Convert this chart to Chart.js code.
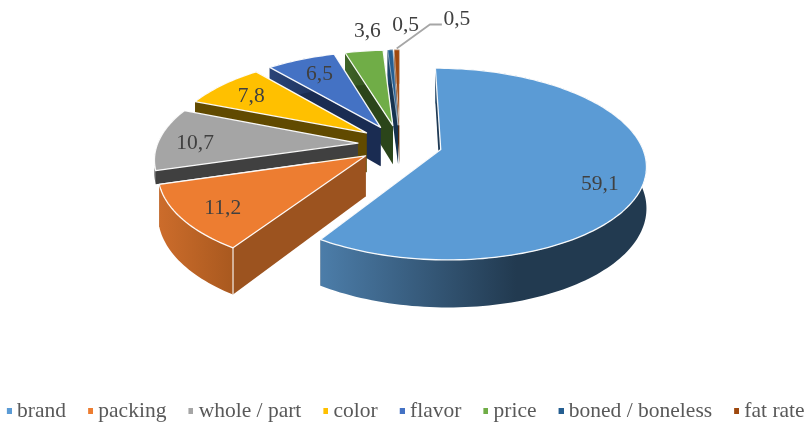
<!DOCTYPE html>
<html><head><meta charset="utf-8">
<style>html,body{margin:0;padding:0;background:#fff}canvas{display:block;filter:blur(.45px)}</style>
<script src="https://cdn.jsdelivr.net/npm/chart.js@4"></script></head>
<body><canvas id="c" width="810" height="422"></canvas>
<script>
const categories = ['brand','packing','whole / part','color','flavor','price','boned / boneless','fat rate'];
const shares = [59.1,11.2,10.7,7.8,6.5,3.6,0.5,0.5];
const shareLabels = ['59,1','11,2','10,7','7,8','6,5','3,6','0,5','0,5'];
const topColors = ['#5b9bd5','#ed7d31','#a5a5a5','#ffc000','#4472c4','#70ad47','#255e91','#9e480e'];
const sideColors = ['#1f3a55','#9c531f','#404040','#614a00','#1a2c52','#2b451a','#16324f','#5c2a08'];
const rimFrom = ['#4c7da9','#cc6c2b','#404040','#614a00','#2a4478','#3f6428','#1d4a70','#70350a'];
const rimTo = ['#223a50','#a9591f','#404040','#614a00','#1a2c52','#2b451a','#16324f','#5c2a08'];
const sideDepth = [40,40,13,40,40,40,40,40];
const labelReach = [0.8,0.8,0.79,0.78,0.77,1.31,1.41,1.42];
const labelShift = [[-3,13],[1,3],[-6,4],[-1,2],[2,1],[11,0],[18,1],[61,-4]];

// Legend swatch: small square placed right of the icon's centre, so it sits close to its text.
function swatch(color){
  const c = document.createElement('canvas'); c.width = 12; c.height = 6;
  const x = c.getContext('2d'); x.fillStyle = color; x.fillRect(7,0,5,6);
  return c;
}

const pie3d = {
  id:'pie3d',
  beforeDatasetsDraw(chart, args, o){
    const ctx = chart.ctx, arcs = chart.getDatasetMeta(0).data;
    const project = (u,v,lift=0)=>{
      const d = 1 + o.persp*v;
      return [o.cx + o.sx*u/d, o.cy + o.sy*v/d + lift/d];
    };
    const pathOf = pts => { ctx.beginPath(); pts.forEach((p,i)=> i?ctx.lineTo(p[0],p[1]):ctx.moveTo(p[0],p[1])); ctx.closePath(); };
    const geo = arcs.map(el=>{
      const p = el.getProps(['startAngle','endAngle','outerRadius']);
      const off = el.options.offset/p.outerRadius, mid=(p.startAngle+p.endAngle)/2;
      return {a0:p.startAngle,a1:p.endAngle,mid,ou:Math.cos(mid)*off,ov:Math.sin(mid)*off};
    });
    for(let i=arcs.length-1;i>=0;i--){
      const g = geo[i], n = Math.max(4,Math.ceil((g.a1-g.a0)*40)), h = sideDepth[i];
      const rim = lift=>{const r=[];for(let k=0;k<=n;k++){const a=g.a0+(g.a1-g.a0)*k/n;r.push(project(g.ou+Math.cos(a),g.ov+Math.sin(a),lift));}return r;};
      const rT = rim(0), rB = rim(h), aT = project(g.ou,g.ov,0), aB = project(g.ou,g.ov,h);
      ctx.fillStyle = sideColors[i];
      pathOf([aT,rT[n],rB[n],aB]); ctx.fill();
      pathOf([aT,rT[0],rB[0],aB]); ctx.fill();
      const xs = rT.map(p=>p[0]), x0=Math.min(...xs), x1=Math.max(...xs);
      const gr = ctx.createLinearGradient(x0,0,x1,0);
      gr.addColorStop(0,rimFrom[i]); gr.addColorStop(i===0?.6:1,rimTo[i]); gr.addColorStop(1,rimTo[i]);
      ctx.fillStyle = gr;
      pathOf(rT.concat(rB.slice().reverse())); ctx.fill();
      if(i===1){ctx.strokeStyle='rgba(255,255,255,.9)';ctx.lineWidth=1.2;ctx.beginPath();ctx.moveTo(rT[0][0],rT[0][1]);ctx.lineTo(rB[0][0],rB[0][1]);ctx.stroke();}
      ctx.fillStyle = topColors[i];
      ctx.strokeStyle = 'rgba(255,255,255,.95)'; ctx.lineWidth = i>5?.5:1.3; ctx.lineJoin='round';
      pathOf([aT].concat(rT)); ctx.fill(); ctx.stroke();
    }
    ctx.font = o.labelFont; ctx.fillStyle='#404040'; ctx.textAlign='center'; ctx.textBaseline='middle';
    geo.forEach((g,i)=>{
      const r = labelReach[i], p = project(g.ou+Math.cos(g.mid)*r, g.ov+Math.sin(g.mid)*r);
      ctx.fillText(shareLabels[i], p[0]+labelShift[i][0], p[1]+labelShift[i][1]);
    });
    const last = geo[geo.length-1], tip = project(last.ou+Math.cos(last.mid)*1.02,last.ov+Math.sin(last.mid)*1.02);
    const lp = project(last.ou+Math.cos(last.mid)*labelReach[7],last.ov+Math.sin(last.mid)*labelReach[7]);
    const ly = lp[1]+labelShift[7][1]+5, lx = lp[0]+labelShift[7][0]-15;
    ctx.strokeStyle='#a6a6a6'; ctx.lineWidth=1.8; ctx.beginPath();
    ctx.moveTo(tip[0],tip[1]); ctx.lineTo(lx-12,ly); ctx.lineTo(lx,ly); ctx.stroke();
    return false;
  }
};

new Chart(document.getElementById('c'),{
  type:'pie',
  data:{labels:categories,datasets:[{data:shares,backgroundColor:topColors,borderWidth:0,offset:21}]},
  options:{
    responsive:false,animation:false,radius:100,
    layout:{padding:{bottom:-10,left:-18,right:-18}},
    plugins:{
      tooltip:{enabled:false},
      legend:{position:'bottom',labels:{
        usePointStyle:true,boxWidth:1,boxHeight:6,padding:20.5,color:'#595959',
        font:{family:'"Liberation Serif"',size:21.5},
        generateLabels(chart){
          return Chart.overrides.pie.plugins.legend.labels.generateLabels(chart)
            .map((it,i)=>({...it,pointStyle:swatch(topColors[i])}));
        }
      }},
      pie3d:{cx:400,cy:144,sx:200.5,sy:92,persp:-0.15,labelFont:'21.5px "Liberation Serif"'}
    }
  },
  plugins:[pie3d]
});
</script></body></html>
